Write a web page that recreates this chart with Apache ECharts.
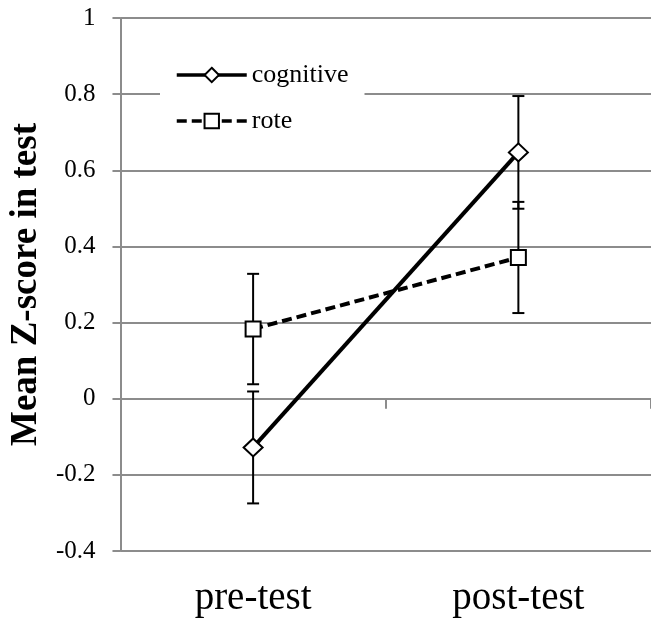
<!DOCTYPE html>
<html>
<head>
<meta charset="utf-8">
<script src="https://cdn.jsdelivr.net/npm/echarts@6/dist/echarts.min.js"></script>
<style>
html,body{margin:0;padding:0;background:#fff;}
#chart{width:651px;height:619px;}
</style>
</head>
<body>
<div id="chart"></div>
<script>
const categories = ['pre-test', 'post-test'];
const cognitive = [-0.128, 0.647];
const cognitiveErr = [0.147, 0.148];
const rote = [0.183, 0.371];
const roteErr = [0.145, 0.146];
const yTicks = { min: -0.4, max: 1, interval: 0.2 };

const FONT = "Liberation Serif";
const GRAY = '#8c8c8c';

function errData(vals, errs) {
  return vals.map((v, i) => [i, v - errs[i], v + errs[i]]);
}

function renderErr(params, api) {
  const x = api.value(0);
  const lo = api.coord([x, api.value(1)]);
  const hi = api.coord([x, api.value(2)]);
  const cap = 6;
  const style = { stroke: '#000', lineWidth: 2 };
  return {
    type: 'group',
    children: [
      { type: 'line', shape: { x1: lo[0], y1: lo[1], x2: hi[0], y2: hi[1] }, style },
      { type: 'line', shape: { x1: lo[0] - cap, y1: lo[1], x2: lo[0] + cap, y2: lo[1] }, style },
      { type: 'line', shape: { x1: hi[0] - cap, y1: hi[1], x2: hi[0] + cap, y2: hi[1] }, style }
    ]
  };
}

const chart = echarts.init(document.getElementById('chart'), null, { renderer: 'canvas' });
chart.setOption({
  animation: false,
  backgroundColor: '#fff',
  grid: { left: 116, top: 18, width: 544, height: 533, containLabel: false },
  legend: {
    data: ['cognitive', 'rote'],
    orient: 'vertical',
    left: 160,
    top: 52,
    padding: [10, 16, 10, 15],
    itemWidth: 70,
    itemHeight: 18,
    itemGap: 20,
    backgroundColor: '#fff',
    lineStyle: { width: 3.5 },
    textStyle: { fontFamily: FONT, fontSize: 26, color: '#000', lineHeight: 26 }
  },
  xAxis: [
    {
      type: 'category',
      data: categories,
      position: 'bottom',
      boundaryGap: true,
      axisLine: { show: true, onZero: true, lineStyle: { color: GRAY, width: 2 } },
      axisTick: { show: true, length: 10, interval: 0, lineStyle: { color: GRAY, width: 2 } },
      axisLabel: { show: false },
      splitLine: { show: false }
    },
    {
      type: 'category',
      data: categories,
      position: 'bottom',
      boundaryGap: true,
      axisLine: { show: false, onZero: false },
      axisTick: { show: false },
      axisLabel: { show: true, margin: 28, fontFamily: FONT, fontSize: 39, color: '#000' },
      splitLine: { show: false }
    }
  ],
  yAxis: {
    type: 'value',
    min: yTicks.min,
    max: yTicks.max,
    interval: yTicks.interval,
    name: 'Mean Z-score in test',
    nameLocation: 'middle',
    nameGap: 65,
    nameTextStyle: { fontFamily: FONT, fontSize: 37, fontWeight: 'bold', color: '#000' },
    axisLine: { show: true, lineStyle: { color: GRAY, width: 2 } },
    axisTick: { show: true, length: 8, lineStyle: { color: GRAY, width: 2 } },
    axisLabel: { margin: 25, fontFamily: FONT, fontSize: 25, color: '#000' },
    splitLine: { show: true, lineStyle: { color: GRAY, width: 2 } }
  },
  series: [
    {
      name: 'cognitiveErr',
      type: 'custom',
      xAxisIndex: 0,
      z: 2,
      renderItem: renderErr,
      data: errData(cognitive, cognitiveErr)
    },
    {
      name: 'roteErr',
      type: 'custom',
      xAxisIndex: 0,
      z: 2,
      renderItem: renderErr,
      data: errData(rote, roteErr)
    },
    {
      name: 'cognitive',
      type: 'line',
      xAxisIndex: 0,
      z: 3,
      data: cognitive,
      symbol: 'diamond',
      symbolSize: [19, 18],
      showAllSymbol: true,
      lineStyle: { color: '#000', width: 4, type: 'solid' },
      itemStyle: { color: '#fff', borderColor: '#000', borderWidth: 2 }
    },
    {
      name: 'rote',
      type: 'line',
      xAxisIndex: 0,
      z: 3,
      data: rote,
      symbol: 'rect',
      symbolSize: 15,
      showAllSymbol: true,
      lineStyle: { color: '#000', width: 4, type: [10, 5] },
      itemStyle: { color: '#fff', borderColor: '#000', borderWidth: 2 }
    }
  ]
});
</script>
</body>
</html>
